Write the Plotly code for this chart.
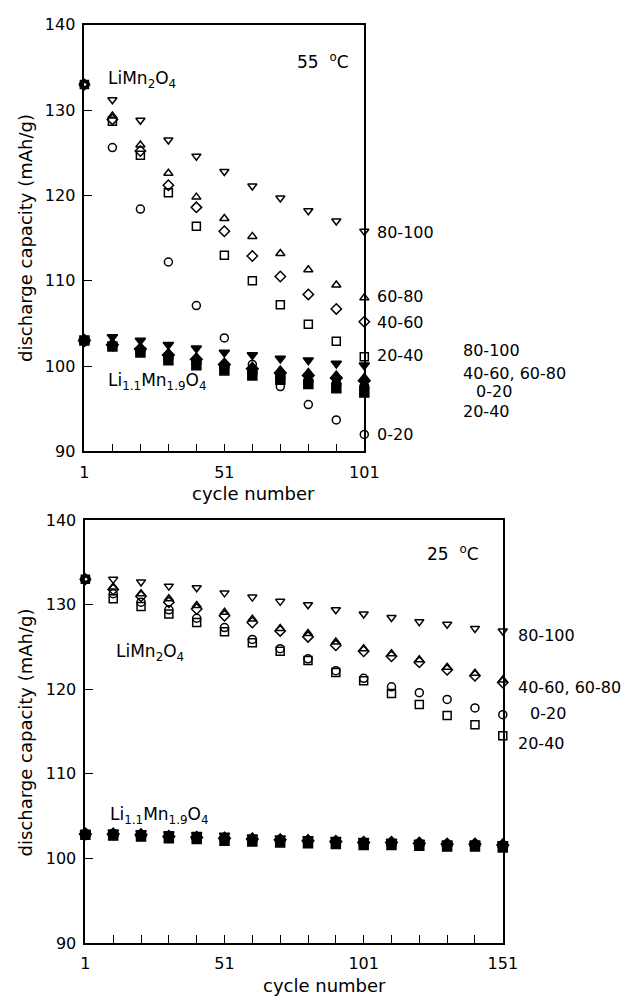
import plotly.graph_objects as go

W, H = 634, 1006

# ---------------- data ----------------
cycles_55 = [1, 11, 21, 31, 41, 51, 61, 71, 81, 91, 101]
cycles_25 = [1, 11, 21, 31, 41, 51, 61, 71, 81, 91, 101, 111, 121, 131, 141, 151]

series_labels = ["0-20", "20-40", "40-60", "60-80", "80-100"]

# 55 C, LiMn2O4 (open symbols)
lmo55_0_20 = [133.0, 125.6, 118.4, 112.2, 107.1, 103.3, 100.2, 97.6, 95.5, 93.7, 92.0]
lmo55_20_40 = [133.0, 128.7, 124.7, 120.3, 116.4, 113.0, 110.0, 107.2, 104.9, 102.9, 101.1]
lmo55_40_60 = [133.0, 128.9, 125.2, 121.2, 118.6, 115.8, 112.9, 110.5, 108.4, 106.7, 105.2]
lmo55_60_80 = [133.0, 129.3, 125.9, 122.6, 119.8, 117.3, 115.2, 113.2, 111.3, 109.5, 108.0]
lmo55_80_100 = [133.0, 131.2, 128.8, 126.5, 124.6, 122.8, 121.1, 119.7, 118.2, 117.0, 115.8]

# 55 C, Li1.1Mn1.9O4 (filled symbols)
li55_0_20 = [103.0, 102.4, 101.8, 101.0, 100.4, 99.8, 99.2, 98.6, 98.2, 97.9, 97.6]
li55_20_40 = [103.0, 102.3, 101.6, 100.7, 100.1, 99.5, 98.9, 98.4, 97.9, 97.4, 96.9]
li55_40_60 = [103.0, 102.5, 102.0, 101.3, 100.8, 100.2, 99.7, 99.2, 98.9, 98.6, 98.3]
li55_60_80 = [103.0, 102.6, 102.2, 101.5, 101.0, 100.4, 99.9, 99.5, 99.2, 98.9, 98.6]
li55_80_100 = [103.0, 103.4, 103.0, 102.5, 102.1, 101.6, 101.3, 100.9, 100.7, 100.3, 100.1]

# 25 C, LiMn2O4
lmo25_0_20 = [133.0, 131.3, 130.3, 129.4, 128.4, 127.3, 125.9, 124.8, 123.6, 122.2, 121.3, 120.3, 119.6, 118.8, 117.8, 117.0]
lmo25_20_40 = [133.0, 130.7, 129.8, 128.9, 127.9, 126.8, 125.5, 124.5, 123.4, 122.0, 121.0, 119.5, 118.2, 116.9, 115.8, 114.5]
lmo25_40_60 = [133.0, 131.8, 131.0, 130.3, 129.5, 128.7, 127.9, 126.9, 126.2, 125.2, 124.5, 123.9, 123.2, 122.3, 121.6, 120.8]
lmo25_60_80 = [133.0, 132.1, 131.3, 130.7, 129.9, 129.1, 128.3, 127.2, 126.6, 125.6, 124.8, 124.2, 123.5, 122.6, 121.9, 121.1]
lmo25_80_100 = [133.0, 133.0, 132.7, 132.2, 132.0, 131.4, 130.9, 130.4, 130.0, 129.4, 128.9, 128.5, 128.0, 127.7, 127.2, 126.9]

# 25 C, Li1.1Mn1.9O4
li25_0_20 = [102.9, 102.8, 102.7, 102.5, 102.4, 102.3, 102.2, 102.1, 102.0, 101.9, 101.8, 101.8, 101.7, 101.6, 101.6, 101.5]
li25_20_40 = [102.8, 102.7, 102.6, 102.4, 102.3, 102.1, 102.0, 101.9, 101.8, 101.7, 101.6, 101.6, 101.5, 101.4, 101.4, 101.3]
li25_40_60 = [102.9, 102.9, 102.8, 102.6, 102.5, 102.4, 102.3, 102.2, 102.1, 102.0, 101.9, 101.9, 101.8, 101.7, 101.7, 101.6]
li25_60_80 = [102.9, 102.9, 102.8, 102.7, 102.6, 102.5, 102.4, 102.3, 102.2, 102.1, 102.0, 101.9, 101.8, 101.7, 101.7, 101.6]
li25_80_100 = [103.0, 103.1, 103.0, 102.9, 102.8, 102.7, 102.5, 102.4, 102.3, 102.2, 102.1, 102.0, 101.9, 101.8, 101.8, 101.7]

y_ticks = [90, 100, 110, 120, 130, 140]
x_ticks_55 = list(range(1, 102, 10))
x_ticks_25 = list(range(1, 152, 10))
x_labels_55 = ["1", "51", "101"]
x_labels_25 = ["1", "51", "101", "151"]

# ---------------- figure ----------------
FONT = "DejaVu Sans"
open_syms = ["circle-open", "square-open", "diamond-open", "triangle-up-open", "triangle-down-open"]
fill_syms = ["circle", "square", "diamond", "triangle-up", "triangle-down"]

fig = go.Figure()

def add_group(xs, ys_list, syms, xa, ya, filled):
    for ys, s in zip(ys_list, syms):
        fig.add_trace(go.Scatter(
            x=xs, y=ys, mode="markers", xaxis=xa, yaxis=ya,
            marker=dict(symbol=s, size=9 if filled else 8, color="black",
                        line=dict(color="black", width=1.5)),
            cliponaxis=False, showlegend=False, hoverinfo="x+y"))

add_group(cycles_55, [li55_0_20, li55_20_40, li55_40_60, li55_60_80, li55_80_100], fill_syms, "x", "y", True)
add_group(cycles_55, [lmo55_0_20, lmo55_20_40, lmo55_40_60, lmo55_60_80, lmo55_80_100], open_syms, "x", "y", False)
add_group(cycles_25, [li25_0_20, li25_20_40, li25_40_60, li25_60_80, li25_80_100], fill_syms, "x2", "y2", True)
add_group(cycles_25, [lmo25_0_20, lmo25_20_40, lmo25_40_60, lmo25_60_80, lmo25_80_100], open_syms, "x2", "y2", False)

def px(x):
    return x / W

def py(y):
    return 1 - y / H

axis_common = dict(showline=True, linecolor="black", linewidth=1.8, mirror=True,
                   ticks="inside", ticklen=8, tickwidth=1.4, tickcolor="black",
                   showgrid=False, zeroline=False,
                   tickfont=dict(family=FONT, size=16, color="black"))

def xt(ticks, labels):
    return [str(t) if str(t) in labels else "" for t in ticks]

fig.update_layout(
    width=W, height=H, margin=dict(l=0, r=0, t=0, b=0),
    paper_bgcolor="white", plot_bgcolor="white",
    font=dict(family=FONT, color="black"),
    xaxis=dict(domain=[px(82), px(371)], range=[1, 101], anchor="y",
               tickmode="array", tickvals=x_ticks_55, ticktext=xt(x_ticks_55, x_labels_55),
               ticklabelstandoff=5, **axis_common),
    yaxis=dict(domain=[py(451), py(16)], range=[90, 140], anchor="x",
               tickmode="array", tickvals=y_ticks, ticktext=[str(v) for v in y_ticks],
               ticklabelstandoff=4, **axis_common),
    xaxis2=dict(domain=[px(83), px(514)], range=[1, 151], anchor="y2",
                tickmode="array", tickvals=x_ticks_25, ticktext=xt(x_ticks_25, x_labels_25),
                ticklabelstandoff=5, **axis_common),
    yaxis2=dict(domain=[py(952), py(521)], range=[90, 140], anchor="x2",
                tickmode="array", tickvals=y_ticks, ticktext=[str(v) for v in y_ticks],
                ticklabelstandoff=4, **axis_common),
)

def ann(text, x, y, size=16, xanchor="left", angle=0):
    fig.add_annotation(text=text, x=px(x), y=py(y), xref="paper", yref="paper",
                       xanchor=xanchor, yanchor="middle", showarrow=False, textangle=angle,
                       font=dict(family=FONT, size=size, color="black"))

# axis titles
ann("discharge capacity (mAh/g)", 21, 233, size=18, xanchor="center", angle=-90)
ann("discharge capacity (mAh/g)", 21, 737, size=18, xanchor="center", angle=-90)
ann("cycle number", 257, 494, size=18, xanchor="center")
ann("cycle number", 330, 995, size=18, xanchor="center")

# panel texts
ann("55  <sup>o</sup>C", 299, 53, size=17)
ann("25  <sup>o</sup>C", 434, 554, size=17)
ann("LiMn<sub>2</sub>O<sub>4</sub>", 104, 72, size=17)
ann("Li<sub>1.1</sub>Mn<sub>1.9</sub>O<sub>4</sub>", 104, 380, size=17)
ann("LiMn<sub>2</sub>O<sub>4</sub>", 113, 656, size=17)
ann("Li<sub>1.1</sub>Mn<sub>1.9</sub>O<sub>4</sub>", 106, 822, size=17)

# near-axis labels, top panel
ann("80-100", 382, 228)
ann("60-80", 382, 293)
ann("40-60", 382, 320)
ann("20-40", 382, 353)
ann("0-20", 382, 434)
# far-right labels, top panel
ann("80-100", 471, 348)
ann("40-60, 60-80", 471, 372)
ann("0-20", 484, 390)
ann("20-40", 471, 410)
# labels, bottom panel
ann("80-100", 528, 639)
ann("40-60, 60-80", 528, 692)
ann("0-20", 540, 718)
ann("20-40", 528, 749)

fig.write_html("out.html")
